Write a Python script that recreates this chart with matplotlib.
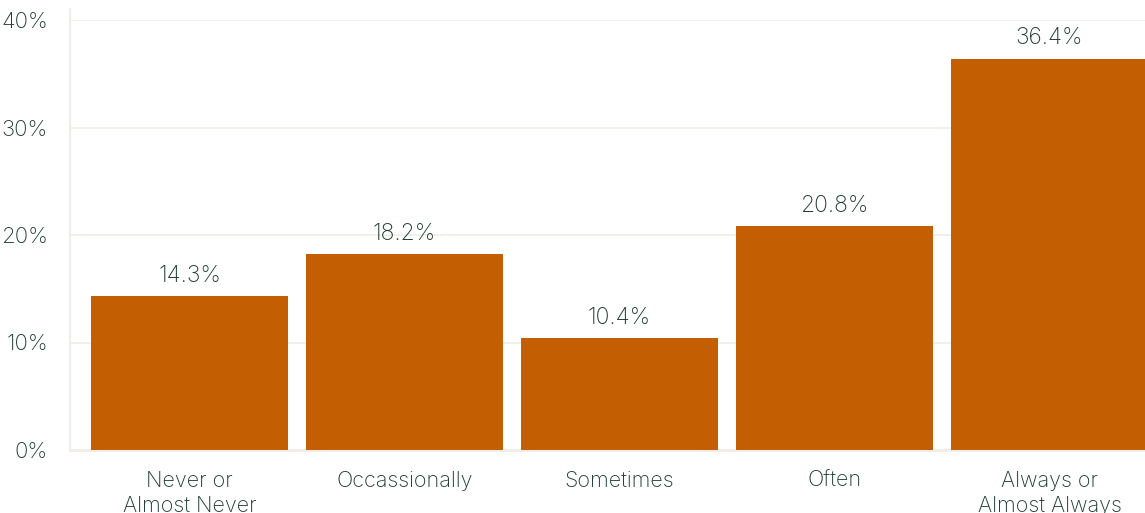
import matplotlib
matplotlib.use("Agg")
import matplotlib.pyplot as plt
from matplotlib.ticker import FuncFormatter

categories = ["Never or\nAlmost Never", "Occassionally", "Sometimes", "Often", "Always or\nAlmost Always"]
values = [14.3, 18.2, 10.4, 20.8, 36.4]
yticks = [0, 10, 20, 30, 40]

bar_color = "#C45E03"
text_color = "#1F3D34"
grid_color = "#F0EDE8"

plt.rcParams['font.family'] = ['Inter', 'DejaVu Sans']
plt.rcParams['font.weight'] = 'light'

W, H = 1145, 513
fig = plt.figure(figsize=(W / 100, H / 100), dpi=100)
left, right, top, bottom = 70, 1145, 20, 450
ax = fig.add_axes([left / W, 1 - bottom / H, (right - left) / W, (bottom - top) / H])

x = list(range(len(categories)))
ax.bar(x, values, width=0.916, color=bar_color, zorder=3)
for xi, v in zip(x, values):
    ax.text(xi, v + 0.9, f"{v:.1f}%", ha="center", va="bottom", fontsize=16.5,
            color=text_color, fontweight='light')

ax.set_xlim(-0.556, 4.444)
ax.set_ylim(0, 40)
ax.set_yticks(yticks)
ax.yaxis.set_major_formatter(FuncFormatter(lambda v, p: f"{v:.0f}%"))
ax.set_xticks(x)
ax.set_xticklabels(categories, fontsize=15.5, color=text_color, linespacing=1.3, fontweight='light')
ax.tick_params(axis="y", labelsize=16, labelcolor=text_color, length=0, pad=16)
ax.tick_params(axis="x", length=0, pad=15)
ax.grid(axis="y", color=grid_color, linewidth=1.2, zorder=0)
for s in ["top", "right"]:
    ax.spines[s].set_visible(False)
ax.spines["left"].set_color(grid_color)
ax.spines["bottom"].set_color(grid_color)
ax.spines["left"].set_linewidth(1.5)
ax.spines["bottom"].set_linewidth(2)
ax.spines["left"].set_bounds(0, 41)
ax.spines["left"].set_clip_on(False)
for t in ax.get_yticklabels():
    t.set_fontweight('light')

fig.savefig("out.png", dpi=100)
